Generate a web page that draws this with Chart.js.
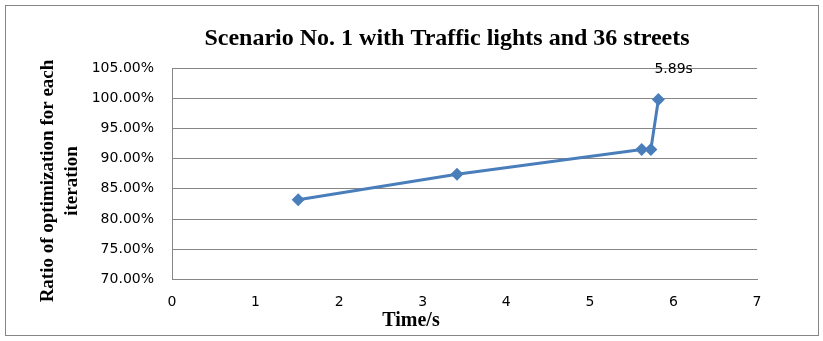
<!DOCTYPE html>
<html>
<head>
<meta charset="utf-8">
<script src="https://cdn.jsdelivr.net/npm/chart.js@4.4.1/dist/chart.umd.min.js"></script>
<style>
  html, body { margin: 0; padding: 0; background: #fff; }
  #wrap { width: 823px; height: 341px; }
</style>
</head>
<body>
<div id="wrap"><canvas id="chart" width="823" height="341"></canvas></div>
<script>
// values
const timeValues = [1.51, 3.41, 5.62, 5.73, 5.82];
const ratioValues = [83.2, 87.4, 91.5, 91.5, 99.8];
const pointLabels = ['', '', '', '', '5.89s'];

const chartTitle = 'Scenario No. 1 with Traffic lights and 36 streets';
const xTitle = 'Time/s';
const yTitleLines = ['Ratio of optimization for each', 'iteration'];

const blue = '#4A7EBB';
const gridGray = '#868686';

const decorations = {
    id: 'decorations',
    beforeDraw(chart) {
        const ctx = chart.ctx;
        ctx.save();
        ctx.fillStyle = '#fff';
        ctx.fillRect(0, 0, chart.width, chart.height);
        ctx.strokeStyle = gridGray;
        ctx.lineWidth = 1;
        ctx.strokeRect(5.5, 5.5, 813, 330);
        ctx.restore();
    },
    afterDraw(chart) {
        const ctx = chart.ctx;
        ctx.save();
        ctx.fillStyle = '#000';
        ctx.textBaseline = 'alphabetic';

        // chart title
        ctx.textAlign = 'center';
        ctx.font = 'bold 24px "Liberation Serif"';
        ctx.fillText(chartTitle, 447, 45);

        // x axis title (sits left of the plot centre like the original)
        ctx.font = 'bold 20px "Liberation Serif"';
        ctx.fillText(xTitle, 411, 326);

        // y axis title, two lines, rotated
        ctx.save();
        ctx.translate(0, 181);
        ctx.rotate(-Math.PI / 2);
        ctx.font = 'bold 19px "Liberation Serif"';
        ctx.fillText(yTitleLines[0], 0, 53);
        ctx.fillText(yTitleLines[1], 0, 77);
        ctx.restore();

        // data labels
        const meta = chart.getDatasetMeta(0);
        ctx.font = '14px "DejaVu Sans"';
        ctx.textAlign = 'left';
        meta.data.forEach((pt, i) => {
            if (pointLabels[i]) {
                ctx.fillText(pointLabels[i], pt.x - 4, pt.y - 26);
            }
        });
        ctx.restore();
    }
};

new Chart(document.getElementById('chart'), {
    type: 'line',
    data: {
        datasets: [{
            data: timeValues.map((t, i) => ({ x: t, y: ratioValues[i] })),
            borderColor: blue,
            backgroundColor: blue,
            borderWidth: 3,
            pointStyle: 'rectRot',
            pointRadius: 6.5,
            pointBorderWidth: 0,
            pointBackgroundColor: blue,
            tension: 0,
            fill: false
        }]
    },
    options: {
        responsive: false,
        animation: false,
        devicePixelRatio: 1,
        layout: { padding: { top: 68, right: 66, bottom: 0, left: 0 } },
        plugins: {
            legend: { display: false },
            title: { display: false },
            tooltip: { enabled: false }
        },
        scales: {
            x: {
                type: 'linear',
                min: 0,
                max: 7,
                ticks: {
                    stepSize: 1,
                    color: '#000',
                    padding: 14,
                    font: { family: 'DejaVu Sans', size: 14 }
                },
                grid: { display: false, drawTicks: false },
                border: { display: true, color: gridGray, width: 1 },
                afterFit(scale) { scale.height = 61.5; }
            },
            y: {
                min: 70,
                max: 105,
                ticks: {
                    stepSize: 5,
                    color: '#000',
                    padding: 18,
                    font: { family: 'DejaVu Sans', size: 14 },
                    callback: (v) => v.toFixed(2) + '%'
                },
                grid: { color: gridGray, lineWidth: 1, drawTicks: false },
                border: { display: true, color: gridGray, width: 1 },
                afterFit(scale) { scale.width = 172; }
            }
        }
    },
    plugins: [decorations]
});
</script>
</body>
</html>
